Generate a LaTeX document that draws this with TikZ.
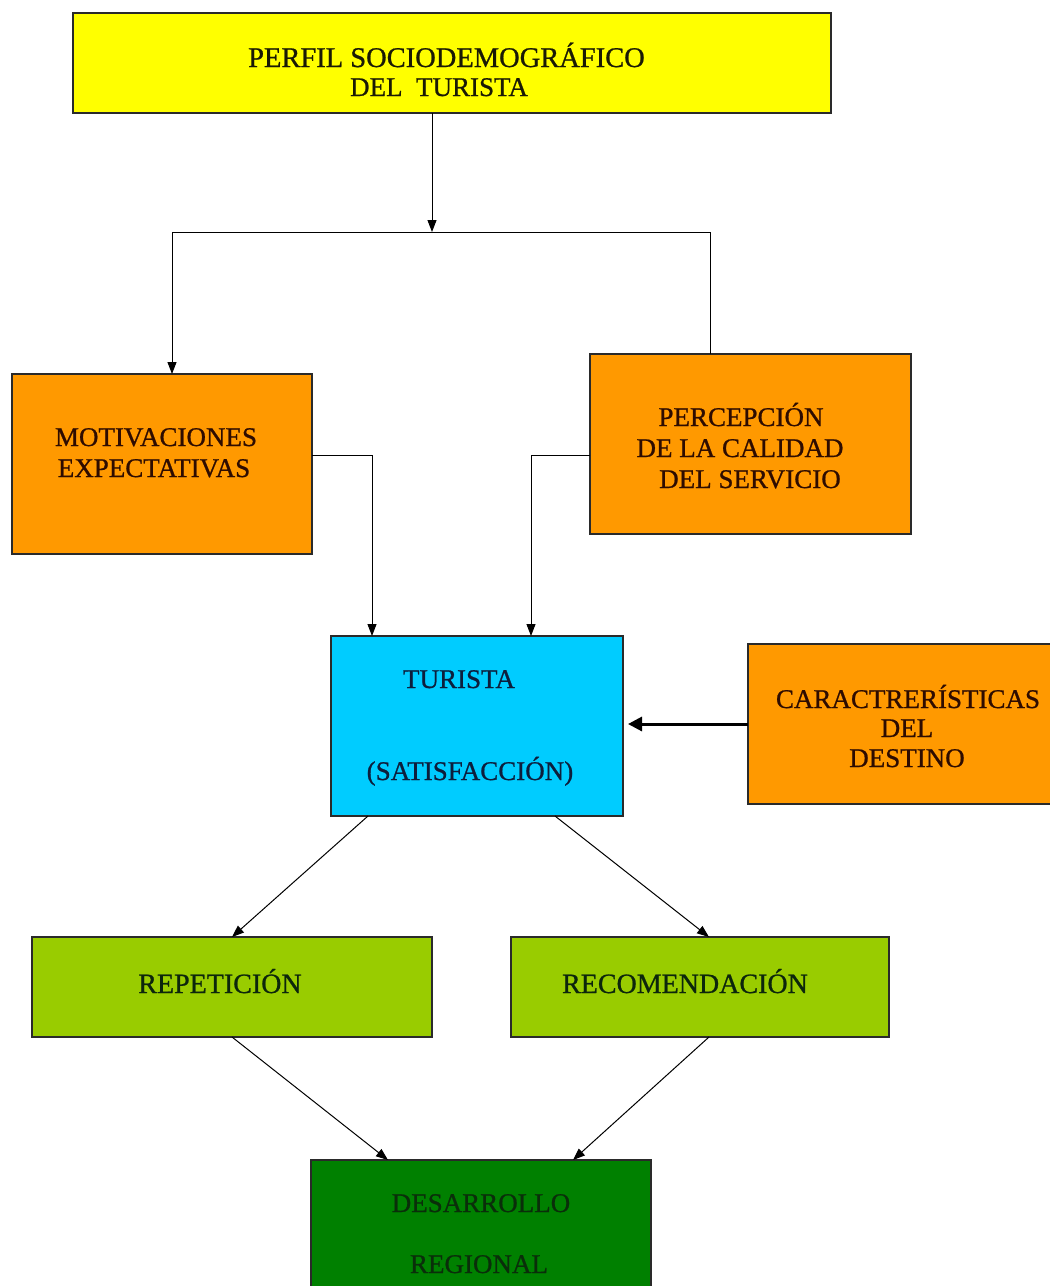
\documentclass[tikz,border=0pt]{standalone}
\usepackage{fontspec}
\setmainfont{Liberation Serif}
\newfontfamily\boxfont{Liberation Serif}[FakeBold=0.8]
\usetikzlibrary{arrows.meta}
\definecolor{cyel}{HTML}{FFFF00}
\definecolor{corg}{HTML}{FF9900}
\definecolor{ccya}{HTML}{00CCFF}
\definecolor{cgrn}{HTML}{99CC00}
\definecolor{cdgr}{HTML}{008000}
\definecolor{cline}{HTML}{2A2A2A}
\definecolor{tyel}{HTML}{1A1A05}
\definecolor{torg}{HTML}{2E0C00}
\definecolor{tcya}{HTML}{0D1E3C}
\definecolor{tgrn}{HTML}{0C260C}
\definecolor{tdgr}{HTML}{0A2E0A}
\begin{document}
\begin{tikzpicture}[x=1pt,y=-1pt,
  box/.style={draw=cline, line width=1.3pt, inner sep=0pt, outer sep=0pt, rectangle},
  lbl/.style={anchor=base, inner sep=0pt, outer sep=0pt, font=\boxfont\fontsize{27}{31}\selectfont},
  arr/.style={draw=black, line width=1pt, -{Triangle[length=12pt,width=9pt]}},
  conn/.style={draw=black, line width=1pt},
  bigarr/.style={draw=black, line width=3pt, -{Triangle[length=14pt,width=14pt]}}]
\useasboundingbox (0,0) rectangle (1050,1286);
\fill[white] (0,0) rectangle (1050,1286);

% boxes
\node[box, fill=cyel, minimum width=758pt, minimum height=100pt] (top) at (452,63) {};
\node[box, fill=corg, minimum width=300pt, minimum height=180pt] (mot) at (162,464) {};
\node[box, fill=corg, minimum width=321pt, minimum height=180pt] (per) at (750.5,444) {};
\node[box, fill=ccya, minimum width=292pt, minimum height=180pt] (tur) at (477,726) {};
\node[box, fill=corg, minimum width=310pt, minimum height=160pt] (car) at (903,724) {};
\node[box, fill=cgrn, minimum width=400pt, minimum height=100pt] (rep) at (232,987) {};
\node[box, fill=cgrn, minimum width=378pt, minimum height=100pt] (rec) at (700,987) {};
\node[box, fill=cdgr, minimum width=340pt, minimum height=150pt] (des) at (481,1235) {};

% texts
\node[lbl, text=tyel, font=\boxfont\fontsize{28.5}{30}\selectfont] (topA) at (446.5,67) {PERFIL SOCIODEMOGRÁFICO};
\node[lbl, text=tyel] (topB) at (439,96) {DEL\ \ TURISTA};
\node[lbl, text=torg] (motA) at (156,446) {MOTIVACIONES};
\node[lbl, text=torg] (motB) at (154,477) {EXPECTATIVAS};
\node[lbl, text=torg] (perA) at (741,426) {PERCEPCIÓN};
\node[lbl, text=torg] (perB) at (740,457) {DE LA CALIDAD};
\node[lbl, text=torg] (perC) at (750,488) {DEL SERVICIO};
\node[lbl, text=tcya] (turA) at (459,688) {TURISTA};
\node[lbl, text=tcya] (turB) at (470,780) {(SATISFACCIÓN)};
\node[lbl, text=torg] (carA) at (908,708) {CARACTRERÍSTICAS};
\node[lbl, text=torg] (carB) at (907,737) {DEL};
\node[lbl, text=torg] (carC) at (907,767) {DESTINO};
\node[lbl, text=tgrn, font=\boxfont\fontsize{28}{31}\selectfont] (repA) at (220,993) {REPETICIÓN};
\node[lbl, text=tgrn, font=\boxfont\fontsize{28}{31}\selectfont] (recA) at (685,993) {RECOMENDACIÓN};
\node[lbl, text=tdgr] (desA) at (481,1212) {DESARROLLO};
\node[lbl, text=tdgr] (desB) at (479,1273) {REGIONAL};

% connectors
\coordinate (j) at (432,232);
\coordinate (jl) at (172,232);
\coordinate (jr) at (710,232);
\draw[arr] (top.south -| j) -- (j);
\draw[conn] (jl) -- (jr);
\draw[arr] (jl) -- (jl |- mot.north);
\draw[conn] (jr) -- (jr |- per.north);
\coordinate (m1) at (372,455);
\draw[arr] (mot.east |- m1) -- (m1) -- (m1 |- tur.north);
\coordinate (p1) at (531,455);
\draw[arr] (per.west |- p1) -- (p1) -- (p1 |- tur.north);
\coordinate (tin) at ([xshift=5pt]tur.east);
\draw[bigarr] (car.west) -- (tin |- car.west);
\draw[arr] ([xshift=37pt]tur.south west) -- (rep.north);
\draw[arr] ([xshift=-68pt]tur.south east) -- ([xshift=9pt]rec.north);
\draw[arr] (rep.south) -- ([xshift=77pt]des.north west);
\draw[arr] ([xshift=9pt]rec.south) -- ([xshift=-78pt]des.north east);
\end{tikzpicture}
\end{document}
